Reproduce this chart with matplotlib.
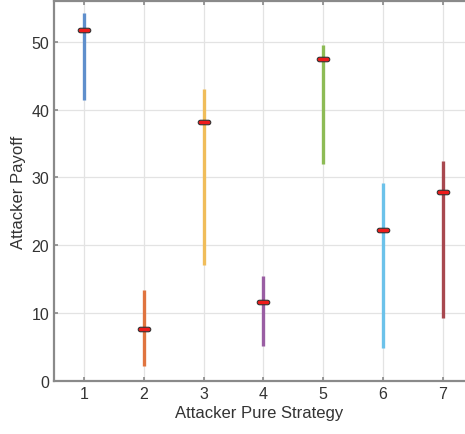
import numpy as np
import matplotlib.pyplot as plt
from matplotlib.path import Path

plt.rcParams['font.family'] = ['Liberation Sans', 'DejaVu Sans']

strategies = [1, 2, 3, 4, 5, 6, 7]
payoff_low = [41.5, 2.2, 17.1, 5.1, 32.0, 4.9, 9.3]
payoff_high = [54.2, 13.4, 43.1, 15.5, 49.5, 29.2, 32.5]
payoff_eq = [51.8, 7.6, 38.2, 11.6, 47.5, 22.2, 27.8]
colors = ['#5f8fcc', '#e0743f', '#f0bd5a', '#9a5ea3', '#8dbb55', '#6cc2ea', '#a8484f']

# stadium shaped marker (wide capsule)
t = np.linspace(-np.pi / 2, np.pi / 2, 12)
right = np.column_stack([0.8 + 0.45 * np.cos(t), 0.45 * np.sin(t)])
left = np.column_stack([-0.8 - 0.45 * np.cos(t), -0.45 * np.sin(t)])
capsule = Path(np.vstack([right, left, right[:1]]), closed=True)

fig = plt.figure(figsize=(4.65, 4.35), dpi=100)
ax = fig.add_axes([0.116, 0.122, 0.884, 0.873])

for x, lo, hi, c in zip(strategies, payoff_low, payoff_high, colors):
    ax.plot([x, x], [lo, hi], color=c, lw=2.4, solid_capstyle='butt', zorder=3)
ax.plot(strategies, payoff_eq, ls='none', marker=capsule, ms=9,
        mfc='#ee1c1c', mec='#333333', mew=0.8, zorder=4)

ax.set_xlim(0.5, 7.37)
ax.set_ylim(0, 56)
ax.set_xticks(strategies)
ax.set_yticks([0, 10, 20, 30, 40, 50])
ax.grid(True, color='#e3e3e3', lw=0.9)
ax.set_axisbelow(True)
ax.tick_params(direction='in', length=3, width=1.2, colors='#888888',
               labelcolor='#333333', labelsize=11.5, top=True)
for side in ['left', 'bottom', 'top']:
    ax.spines[side].set_color('#8a8a8a')
    ax.spines[side].set_linewidth(1.6)
ax.spines['right'].set_visible(False)
ax.set_xlabel('Attacker Pure Strategy', fontsize=12, color='#333333', labelpad=3)
ax.set_ylabel('Attacker Payoff', fontsize=12, color='#333333', labelpad=4)

fig.savefig('out.png', dpi=100)
